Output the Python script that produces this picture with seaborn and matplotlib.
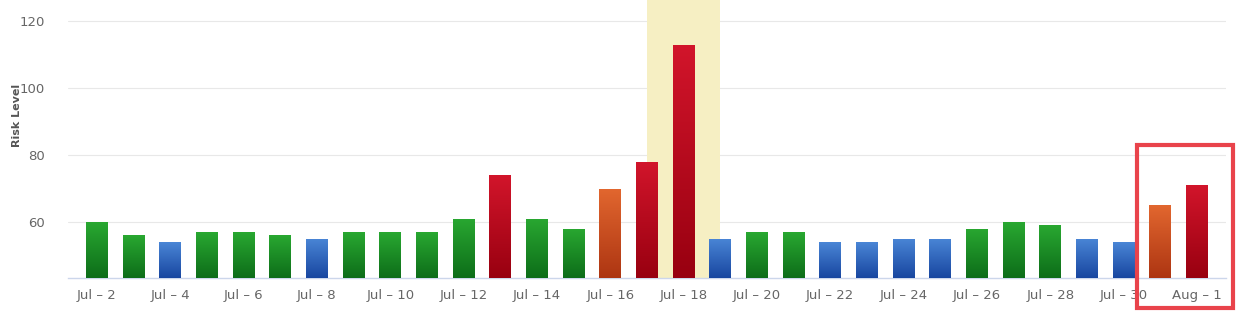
import numpy as np
import pandas as pd
import matplotlib
matplotlib.use("Agg")
import matplotlib.pyplot as plt
import seaborn as sns
from matplotlib.patches import Rectangle
from matplotlib.colors import LinearSegmentedColormap

dates = ["Jul 2", "Jul 3", "Jul 4", "Jul 5", "Jul 6", "Jul 7", "Jul 8", "Jul 9", "Jul 10",
         "Jul 11", "Jul 12", "Jul 13", "Jul 14", "Jul 15", "Jul 16", "Jul 17", "Jul 18",
         "Jul 19", "Jul 20", "Jul 21", "Jul 22", "Jul 23", "Jul 24", "Jul 25", "Jul 26",
         "Jul 27", "Jul 28", "Jul 29", "Jul 30", "Jul 31", "Aug 1"]
risk = [60, 56, 54, 57, 57, 56, 55, 57, 57, 57, 61, 74, 61, 58, 70, 78, 113,
        55, 57, 57, 54, 54, 55, 55, 58, 60, 59, 55, 54, 65, 71]
level = ["green", "green", "blue", "green", "green", "green", "blue", "green", "green",
         "green", "green", "red", "green", "green", "orange", "red", "red",
         "blue", "green", "green", "blue", "blue", "blue", "blue", "green",
         "green", "green", "blue", "blue", "orange", "red"]
tick_labels = ["Jul \u2013 2", "Jul \u2013 4", "Jul \u2013 6", "Jul \u2013 8", "Jul \u2013 10",
               "Jul \u2013 12", "Jul \u2013 14", "Jul \u2013 16", "Jul \u2013 18", "Jul \u2013 20",
               "Jul \u2013 22", "Jul \u2013 24", "Jul \u2013 26", "Jul \u2013 28", "Jul \u2013 30",
               "Aug \u2013 1"]
highlight_date = "Jul 18"
boxed_dates = ["Jul 31", "Aug 1"]

grad = {
    "green": ("#29a831", "#0d6d19"),
    "blue": ("#4a86d6", "#1846a0"),
    "red": ("#d2152b", "#980010"),
    "orange": ("#e2672f", "#ad3512"),
}

df = pd.DataFrame({"date": dates, "risk": risk, "level": level})

sns.set_style("white")
plt.rcParams["font.family"] = ["DejaVu Sans"]

fig = plt.figure(figsize=(12.5, 3.17), dpi=100)
ax = fig.add_axes([0.054, 0.123, 0.927, 0.877])

YMIN, YMAX = 43.3, 126.3
sns.barplot(data=df, x="date", y="risk", hue="level",
            palette={k: v[0] for k, v in grad.items()}, dodge=False, saturation=1,
            width=0.59, legend=False, ax=ax, zorder=3, linewidth=0)

# gradient fill clipped to each bar
for p in list(ax.patches):
    h = p.get_height()
    if not np.isfinite(h) or h <= 0:
        continue
    x0, w = p.get_x(), p.get_width()
    idx = int(round(x0 + w / 2))
    key = level[idx]
    cmap = LinearSegmentedColormap.from_list(key, [grad[key][1], grad[key][0]])
    im = ax.imshow(np.linspace(0, 1, 256).reshape(-1, 1), cmap=cmap, aspect="auto",
                   origin="lower", extent=[x0, x0 + w, YMIN, h], zorder=4)
    im.set_clip_path(p)

hi = dates.index(highlight_date)
ax.axvspan(hi - 1.0, hi + 1.0, color="#f6efc3", zorder=1, lw=0)

ax.set_xlim(-0.8, len(dates) - 0.2)
ax.set_ylim(YMIN, YMAX)
ax.set_yticks([60, 80, 100, 120])
ax.yaxis.grid(True, color="#e8e8e8", lw=0.8, zorder=0)
ax.set_axisbelow(True)
for s in ["top", "right", "left"]:
    ax.spines[s].set_visible(False)
ax.spines["bottom"].set_color("#ccd6eb")
ax.spines["bottom"].set_linewidth(1)

ax.set_xticks(range(0, len(dates), 2))
ax.set_xticklabels(tick_labels)
ax.tick_params(axis="x", colors="#ccd6eb", length=7, width=1, pad=1,
               labelcolor="#666666", labelsize=9.5)
ax.tick_params(axis="y", length=0, labelcolor="#666666", labelsize=9.5, pad=16)
ax.set_xlabel("")
ax.set_ylabel("Risk Level", color="#555555", fontsize=8, fontweight="bold")
ax.yaxis.set_label_coords(-0.039, 0.585)

# red annotation box around the last two bars
b0 = dates.index(boxed_dates[0])
b1 = dates.index(boxed_dates[-1])
box = Rectangle((b0 - 0.63, 34.4), (b1 + 0.98) - (b0 - 0.63), 83 - 34.4,
                fill=False, edgecolor="#e9434b", lw=3, clip_on=False, zorder=6)
ax.add_patch(box)

fig.savefig("out.png", dpi=100, facecolor="white")
